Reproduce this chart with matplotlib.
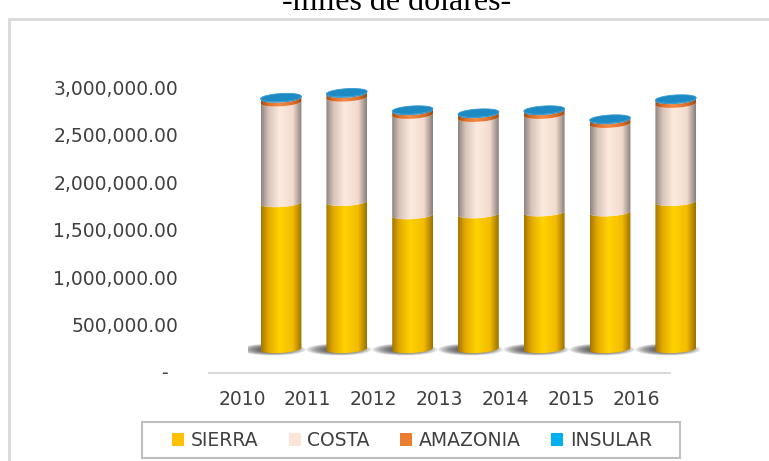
import numpy as np
import matplotlib.pyplot as plt
from matplotlib.patches import PathPatch, Polygon, Ellipse, Rectangle, Patch
from matplotlib.path import Path
from matplotlib.colors import LinearSegmentedColormap
from matplotlib.transforms import ScaledTranslation

# valores (dolares)
years = ['2010', '2011', '2012', '2013', '2014', '2015', '2016']
sierra = [1537000, 1550000, 1410000, 1420000, 1440000, 1440000, 1550000]
costa = [1060000, 1098000, 1056000, 1014000, 1026000, 931000, 1032000]
amazonia = [40000, 40000, 40000, 40000, 40000, 40000, 40000]
insular = [10000, 10000, 10000, 10000, 10000, 10000, 10000]

legend_colors = ['#FFC000', '#FBE5D6', '#ED7D31', '#00B0F0']
shade = {
    'SIERRA': ['#A57500', '#E2AA00', '#FFD200', '#F2BC00', '#9A6E00'],
    'COSTA': ['#8C827F', '#D6C3B9', '#FDEADF', '#F2DBCE', '#877D79'],
    'AMAZONIA': ['#A04C12', '#DE6E28', '#F58A45', '#DE6E28', '#A04C12'],
    'INSULAR': ['#0E5F8A', '#1B86BE', '#2A9AD2', '#1B86BE', '#0E5F8A'],
}
stops = [0.0, 0.18, 0.45, 0.78, 1.0]
text_color = '#404040'

W, H = 769, 461
fig = plt.figure(figsize=(W / 100, H / 100), dpi=100)
ymin, ymax = -250000, 3200000
ax_top, ax_bot = 45, 372.75
ax_left, ax_right = 248.1, 708.7
ax = fig.add_axes([ax_left / W, 1 - ax_bot / H, (ax_right - ax_left) / W, (ax_bot - ax_top) / H])
ax.set_xlim(-0.5, 6.5)
ax.set_ylim(ymin, ymax)
for s in ax.spines.values():
    s.set_visible(False)
ax.patch.set_visible(False)

px = (ymax - ymin) / (ax_bot - ax_top)   # data units per pixel (vertical)
ry = 4 * px
tilt = 1.2 * px
bw = 0.62
x = np.arange(len(years))


def arc(cx, a, y0, th):
    return np.column_stack([cx + a * np.cos(th), y0 + ry * np.sin(th) + tilt * np.cos(th)])


def cylinder_path(x0, w, b, t):
    cx, a = x0 + w / 2, w / 2
    lower = arc(cx, a, b, np.linspace(np.pi, 2 * np.pi, 40))
    upper = arc(cx, a, t, np.linspace(2 * np.pi, np.pi, 40))
    verts = np.vstack([lower, upper, lower[:1]])
    return Path(verts, closed=True)


grad = np.linspace(0, 1, 256)[np.newaxis, :]

# sombras bajo cada cilindro
for xi in x:
    for k in range(10):
        f = 1.0 - k * 0.06
        ax.add_patch(Ellipse((xi - 0.12, -0.5 * px), bw * 1.6 * f, 12 * px * f,
                             facecolor='#2e2e2e', edgecolor='none', alpha=0.11, zorder=1))

bottom = np.zeros(len(years))
series = [('SIERRA', sierra), ('COSTA', costa), ('AMAZONIA', amazonia), ('INSULAR', insular)]
for name, vals in series:
    cmap = LinearSegmentedColormap.from_list(name, list(zip(stops, shade[name])))
    rects = ax.bar(x, vals, bottom=bottom, width=bw, color='none', edgecolor='none')
    for r in rects:
        x0, w, b = r.get_x(), r.get_width(), r.get_y()
        t = b + r.get_height()
        patch = PathPatch(cylinder_path(x0, w, b, t), facecolor='none', edgecolor='none')
        ax.add_patch(patch)
        im = ax.imshow(grad, extent=(x0, x0 + w, b - 3 * ry, t + 3 * ry), aspect='auto',
                       cmap=cmap, interpolation='bilinear', zorder=2)
        im.set_clip_path(patch)
    bottom = bottom + np.array(vals)

# tapa superior
for xi, tot in zip(x, bottom):
    cap = arc(xi, bw / 2, tot, np.linspace(0, 2 * np.pi, 80))
    ax.add_patch(Polygon(cap, closed=True, facecolor='#1D8AC4', edgecolor='#3A9BD0',
                         linewidth=0.6, zorder=3))

ax.set_xlim(-0.5, 6.5)
ax.set_ylim(ymin, ymax)

# piso (linea gris)
floor_tr = ax.transData + ScaledTranslation(-0.39, -0.24, fig.dpi_scale_trans)
ax.plot([-0.5, 6.5], [0, 0], color='#d9d9d9', lw=1.5, transform=floor_tr, clip_on=False)

yt = np.arange(0, 3000001, 500000)
ax.set_yticks(yt)
ax.set_yticklabels([f'{v:,.2f}' if v else '-' for v in yt])
ax.set_xticks(x)
ax.set_xticklabels(years)
ax.tick_params(axis='both', length=0, pad=0, labelsize=13.5, labelcolor=text_color)

for lab, v in zip(ax.get_yticklabels(), yt):
    dx = -0.70 if v else -0.80
    lab.set_transform(lab.get_transform() + ScaledTranslation(dx, -0.23, fig.dpi_scale_trans))
for lab in ax.get_xticklabels():
    lab.set_transform(lab.get_transform() + ScaledTranslation(-0.39, -0.17, fig.dpi_scale_trans))

# titulo (cortado arriba, como en el original)
fig.text(397 / W, 1 - 10 / H, '-miles de dólares-', ha='center', va='baseline',
         family='Liberation Serif', fontsize=23, color='#000000')

# borde del area del grafico
fig.patches.append(Rectangle((9 / W, -0.05), 1.0, 1 - 19 / H + 0.05, transform=fig.transFigure,
                             fill=False, edgecolor='#d9d9d9', linewidth=2))

# leyenda
handles = [Patch(facecolor=c, edgecolor='none', label=n) for c, (n, _) in zip(legend_colors, series)]
fig.legend(handles=handles, loc='center', bbox_to_anchor=(412 / W, 1 - 440.5 / H), ncol=4,
           frameon=False, fontsize=13.5, labelcolor=text_color, handlelength=0.64,
           handleheight=0.64, handletextpad=0.37, columnspacing=1.6, borderpad=0.2)
fig.patches.append(Rectangle((142 / W, 1 - 458 / H), 538 / W, 36 / H, transform=fig.transFigure,
                             fill=False, edgecolor='#bfbfbf', linewidth=1.5))

fig.savefig('out.png', dpi=100)
